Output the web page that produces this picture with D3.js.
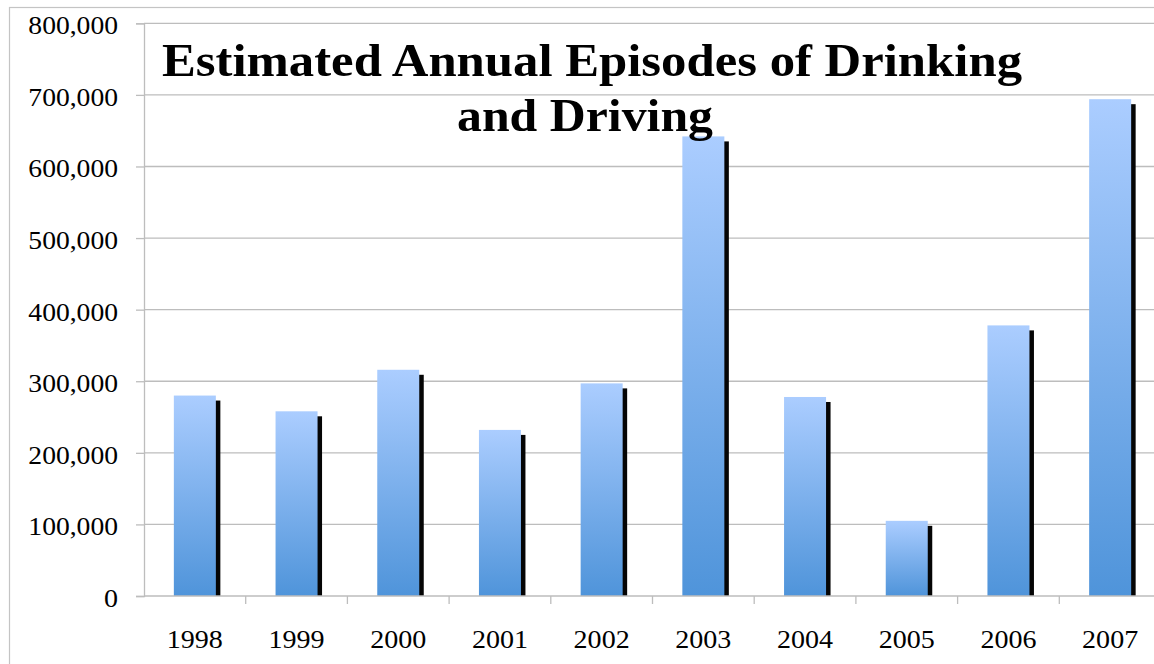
<!DOCTYPE html>
<html>
<head>
<meta charset="utf-8">
<script src="https://cdn.jsdelivr.net/npm/d3@7"></script>
<style>
  body { margin: 0; background: #fff; }
  svg { display: block; }
</style>
</head>
<body>
<div id="plot"></div>
<script>
// chart data
const years = ["1998", "1999", "2000", "2001", "2002", "2003", "2004", "2005", "2006", "2007"];
const episodes = [280000, 258000, 316000, 232000, 297000, 642000, 278000, 105000, 378000, 694000];
const yTicks = [0, 100000, 200000, 300000, 400000, 500000, 600000, 700000, 800000];
const titleLines = ["Estimated Annual Episodes of Drinking", "and Driving"];

const W = 1154, H = 664;
const plot = {left: 144, top: 23.3, bottom: 596, step: 101.7};
const font = "'Liberation Serif', 'DejaVu Serif', serif";
const labelSize = 26;

// width the label would have in the original (wider) serif
function labelLength(s) {
    let w = 0;
    for (const c of s) w += (c === ",") ? 0.22 : 0.554;
    return w * 25.3;
}

const svg = d3.select("#plot").append("svg")
    .attr("width", W)
    .attr("height", H);

// gradient for the bars
const grad = svg.append("defs").append("linearGradient")
    .attr("id", "barGrad")
    .attr("x1", 0).attr("y1", 0).attr("x2", 0).attr("y2", 1);
grad.append("stop").attr("offset", "0%").attr("stop-color", "#abcdff");
grad.append("stop").attr("offset", "100%").attr("stop-color", "#4f94da");

// outer chart border
svg.append("rect")
    .attr("x", 9.5).attr("y", 7.5)
    .attr("width", 1170).attr("height", 700)
    .attr("fill", "none")
    .attr("stroke", "#c4c4c4")
    .attr("stroke-width", 1.2);

// scales
const x = d3.scaleBand()
    .domain(years)
    .range([plot.left, plot.left + plot.step * years.length])
    .paddingInner(0.587)
    .paddingOuter(0.587 / 2);

const y = d3.scaleLinear()
    .domain([0, 800000])
    .range([plot.bottom, plot.top]);

// gridlines
svg.append("g")
    .selectAll("line")
    .data(yTicks.slice(1))
    .enter()
    .append("line")
    .attr("x1", plot.left).attr("x2", plot.left + plot.step * years.length)
    .attr("y1", d => y(d)).attr("y2", d => y(d))
    .attr("stroke", "#bdbdbd")
    .attr("stroke-width", 1.3);

// y axis
const yAxis = svg.append("g")
    .attr("transform", "translate(" + plot.left + ",0)")
    .call(d3.axisLeft(y)
        .tickValues(yTicks)
        .tickSize(8)
        .tickPadding(18)
        .tickFormat(d3.format(",")));
yAxis.select(".domain").attr("stroke", "#bdbdbd").attr("stroke-width", 1.3);
yAxis.selectAll(".tick line").attr("stroke", "#bdbdbd").attr("stroke-width", 1.3);
yAxis.selectAll(".tick text")
    .attr("font-family", font)
    .attr("font-size", labelSize)
    .attr("fill", "#000")
    .attr("dy", "0.4em")
    .attr("textLength", function() { return labelLength(this.textContent); })
    .attr("lengthAdjust", "spacingAndGlyphs");

// bar shadows
svg.append("g")
    .selectAll("rect")
    .data(episodes)
    .enter()
    .append("rect")
    .attr("x", (d, i) => x(years[i]) + 4.5)
    .attr("y", d => y(d) + 5)
    .attr("width", x.bandwidth())
    .attr("height", d => y(0) - y(d) - 5)
    .attr("fill", "#050505");

// bars
svg.append("g")
    .selectAll("rect")
    .data(episodes)
    .enter()
    .append("rect")
    .attr("x", (d, i) => x(years[i]))
    .attr("y", d => y(d))
    .attr("width", x.bandwidth())
    .attr("height", d => y(0) - y(d))
    .attr("fill", "url(#barGrad)");

// x axis line with ticks between categories
svg.append("line")
    .attr("x1", plot.left).attr("x2", plot.left + plot.step * years.length)
    .attr("y1", y(0)).attr("y2", y(0))
    .attr("stroke", "#bdbdbd")
    .attr("stroke-width", 1.3);

svg.append("g")
    .selectAll("line")
    .data(years.slice(1))
    .enter()
    .append("line")
    .attr("x1", d => x(d) - x.step() * x.paddingInner() / 2)
    .attr("x2", d => x(d) - x.step() * x.paddingInner() / 2)
    .attr("y1", y(0)).attr("y2", y(0) + 8)
    .attr("stroke", "#bdbdbd")
    .attr("stroke-width", 1.3);

svg.append("g")
    .selectAll("text")
    .data(years)
    .enter()
    .append("text")
    .attr("x", d => x(d) + x.bandwidth() / 2)
    .attr("y", 648)
    .attr("text-anchor", "middle")
    .attr("font-family", font)
    .attr("font-size", labelSize)
    .attr("textLength", d => labelLength(d))
    .attr("lengthAdjust", "spacingAndGlyphs")
    .text(d => d);

// title
const titlePos = [{x: 162, y: 76, len: 860}, {x: 457, y: 131, len: 256}];
svg.append("g")
    .selectAll("text")
    .data(titleLines)
    .enter()
    .append("text")
    .attr("x", (d, i) => titlePos[i].x)
    .attr("y", (d, i) => titlePos[i].y)
    .attr("textLength", (d, i) => titlePos[i].len)
    .attr("lengthAdjust", "spacingAndGlyphs")
    .attr("font-family", font)
    .attr("font-weight", "bold")
    .attr("font-size", 47)
    .attr("fill", "#000")
    .text(d => d);
</script>
</body>
</html>
